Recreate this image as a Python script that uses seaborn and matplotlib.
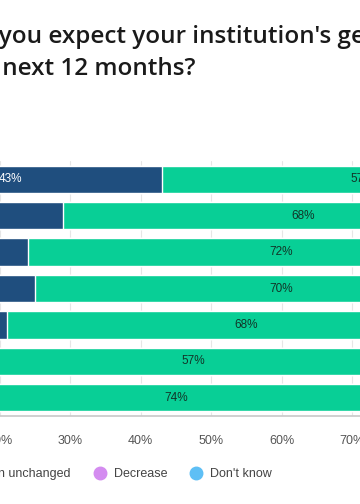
import matplotlib
matplotlib.use("Agg")

import matplotlib.pyplot as plt
import pandas as pd
import seaborn as sns
from matplotlib.lines import Line2D
from matplotlib.ticker import FuncFormatter, MultipleLocator


# survey rows (labels sit outside the visible crop)
groups = [
    "All respondents",
    "Universities",
    "Colleges",
    "Research institutes",
    "Public sector",
    "Private sector",
    "Other",
]
increase = [43, 29, 24, 25, 21, 19, 8]
unchanged = [57, 68, 72, 70, 68, 57, 74]
decrease = [0, 1, 1, 2, 3, 6, 4]
dont_know = [0, 2, 3, 3, 8, 18, 14]

series_names = ["Increase", "Remain unchanged", "Decrease", "Don't know"]
colors = ["#1f4e7e", "#08cf96", "#d48cf0", "#5ebff5"]

title_lines = [
    "How do you expect your institution's generative AI budget to change",
    "over the next 12 months?",
]


df = pd.DataFrame(
    {
        "group": groups,
        "Increase": increase,
        "Remain unchanged": unchanged,
        "Decrease": decrease,
        "Don't know": dont_know,
    }
)

# cumulative totals for the stacked look
cum = df[series_names].cumsum(axis=1)
cum["group"] = df["group"]

sns.set_theme(style="white")
plt.rcParams["font.family"] = ["Liberation Sans", "DejaVu Sans"]

fig = plt.figure(figsize=(3.6, 5.04), dpi=100)
ax = fig.add_axes([-141.5 / 360, 88 / 504, 705 / 360, 255 / 504])

# draw from the widest stack down so each segment stays visible
for name, color in reversed(list(zip(series_names, colors))):
    sns.barplot(
        data=cum,
        x=name,
        y="group",
        orient="h",
        color=color,
        width=0.75,
        edgecolor="white",
        linewidth=1,
        saturation=1,
        ax=ax,
        zorder=2,
    )

# segment labels
for i, row in df.iterrows():
    left = 0
    for name in ["Increase", "Remain unchanged"]:
        val = row[name]
        if val >= 5:
            ax.text(
                left + val / 2,
                i,
                f"{val}%",
                ha="center",
                va="center",
                fontsize=8.5,
                color="white" if name == "Increase" else "#123528",
                zorder=3,
            )
        left += val

ax.set_xlim(0, 100)
ax.set_ylim(len(groups) - 0.5, -0.5)
ax.set_xlabel("")
ax.set_ylabel("")
ax.set_yticks([])
ax.xaxis.set_major_locator(MultipleLocator(10))
ax.xaxis.set_major_formatter(FuncFormatter(lambda v, _: f"{v:.0f}%"))
ax.tick_params(axis="x", length=0, pad=14, labelsize=9, labelcolor="#555555")

ax.grid(axis="x", color="#e6e6e6", linewidth=0.8, zorder=0)
ax.set_axisbelow(True)
for side in ["top", "left", "right"]:
    ax.spines[side].set_visible(False)
ax.spines["bottom"].set_color("#c8c8c8")
ax.spines["bottom"].set_linewidth(1.2)

# title, one text per wrapped line
for line, x_px, base_px in zip(title_lines, [-96, -101], [43, 75]):
    fig.text(
        x_px / 360,
        1 - base_px / 504,
        line,
        ha="left",
        va="baseline",
        fontsize=17.5,
        fontweight="semibold",
        family=["Open Sans", "DejaVu Sans"],
        color="#1a1a1a",
    )

handles = [
    Line2D([0], [0], marker="o", linestyle="", markersize=9,
           markerfacecolor=c, markeredgecolor=c)
    for c in colors
]
fig.legend(
    handles,
    series_names,
    loc="center left",
    bbox_to_anchor=(-149 / 360, 1 - 474 / 504),
    ncol=4,
    frameon=False,
    fontsize=9,
    labelcolor="#444444",
    handlelength=1,
    handletextpad=0.62,
    columnspacing=1.82,
    borderpad=0,
    borderaxespad=0,
)

fig.savefig("out.png", dpi=100)
plt.close(fig)
